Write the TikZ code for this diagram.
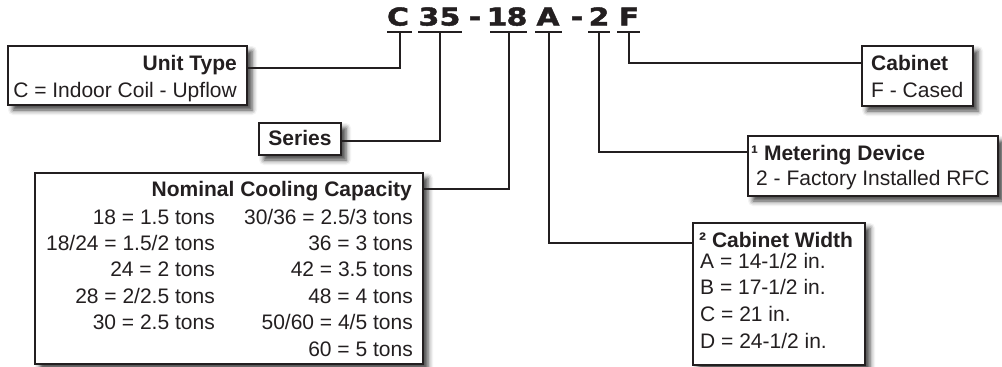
\documentclass[tikz,border=0pt]{standalone}
\usepackage{fontspec}
\setmainfont{Liberation Sans}
\newfontfamily\codefont[FakeStretch=1.22,FakeBold=1.8]{DejaVu Sans}
\usetikzlibrary{shadows.blur}
\definecolor{ink}{HTML}{231F20}
\begin{document}
\begin{tikzpicture}[x=1pt,y=-1pt,
  box/.style={draw=ink, line width=1.1pt, fill=white, inner sep=0pt, outer sep=0pt, anchor=north west,
    blur shadow={shadow xshift=5pt, shadow yshift=-5pt, shadow blur radius=5pt, shadow opacity=75}},
  txt/.style={inner sep=0pt, text=ink, font=\fontsize{21}{25}\selectfont},
  hd/.style={inner sep=0pt, text=ink, font=\fontsize{21}{25}\selectfont\bfseries},
  code/.style={inner sep=0pt, anchor=base, text=ink, font=\codefont\bfseries\fontsize{24.5}{28}\selectfont},
  uline/.style={fill=ink, inner sep=0pt, outer sep=0pt, minimum height=2.5pt},
  conn/.style={draw=ink, line width=2pt}]
\useasboundingbox (0,0) rectangle (1002,367);

% code letters
\node[code] (kC) at (398,25.5) {C};
\node[code] (k3) at (429,25.5) {3};
\node[code] (k5) at (450,25.5) {5};
\node[code] (kd1) at (475,25.5) {-};
\node[code] (k1) at (497,25.5) {1};
\node[code] (k8) at (517,25.5) {8};
\node[code] (kA) at (548,25.5) {A};
\node[code] (kd2) at (577,25.5) {-};
\node[code] (k2) at (599,25.5) {2};
\node[code] (kF) at (629,25.5) {F};

% underlines
\node[uline, minimum width=25pt] (uC) at (399.5,32) {};
\node[uline, minimum width=44pt] (u35) at (440,32) {};
\node[uline, minimum width=37pt] (u18) at (508.5,32) {};
\node[uline, minimum width=27pt] (uA) at (548.5,32) {};
\node[uline, minimum width=22pt] (u2) at (599,32) {};
\node[uline, minimum width=23pt] (uF) at (628.5,32) {};

% boxes
\node[box, minimum width=239pt, minimum height=59pt] (unit) at (8,46) {};
\node[box, minimum width=82pt, minimum height=32pt] (series) at (259,123) {};
\node[box, minimum width=388pt, minimum height=191pt] (nom) at (35,173) {};
\node[box, minimum width=111pt, minimum height=60pt] (cab) at (862,46) {};
\node[box, minimum width=250pt, minimum height=60pt] (met) at (748,136) {};
\node[box, minimum width=172pt, minimum height=142pt] (cw) at (693,223) {};

% connector ends
\coordinate (unitL) at (247,68);
\coordinate (seriesL) at (341,141);
\coordinate (nomL) at (423,189);
\coordinate (cwL) at (693,243);
\coordinate (metL) at (748,152);
\coordinate (cabL) at (862,63);

\draw[conn] (uC.center) |- (unitL);
\draw[conn] (u35.center) |- (seriesL);
\draw[conn] (u18.center) |- (nomL);
\draw[conn] (uA.center) |- (cwL);
\draw[conn] (u2.center) |- (metL);
\draw[conn] (uF.center) |- (cabL);

% Unit type
\node[hd, anchor=base east] (unitH) at (237,70) {Unit Type};
\node[txt, anchor=base east] (unitT) at (237,97.3) {C = Indoor Coil - Upflow};

% Series
\node[hd, anchor=base] (seriesH) at (300,145.5) {Series};

% Nominal
\node[hd, anchor=base east] (nomH) at (412,196) {Nominal Cooling Capacity};
\node[txt, anchor=base east] (nl1) at (215,224) {18 = 1.5 tons};
\node[txt, anchor=base east] (nl2) at (215,250.4) {18/24 = 1.5/2 tons};
\node[txt, anchor=base east] (nl3) at (215,276.8) {24 = 2 tons};
\node[txt, anchor=base east] (nl4) at (215,303.2) {28 = 2/2.5 tons};
\node[txt, anchor=base east] (nl5) at (215,329.6) {30 = 2.5 tons};
\node[txt, anchor=base east] (nr1) at (413,224) {30/36 = 2.5/3 tons};
\node[txt, anchor=base east] (nr2) at (413,250.4) {36 = 3 tons};
\node[txt, anchor=base east] (nr3) at (413,276.8) {42 = 3.5 tons};
\node[txt, anchor=base east] (nr4) at (413,303.2) {48 = 4 tons};
\node[txt, anchor=base east] (nr5) at (413,329.6) {50/60 = 4/5 tons};
\node[txt, anchor=base east] (nr6) at (413,356) {60 = 5 tons};

% Cabinet
\node[hd, anchor=base west] (cabH) at (871,70.5) {Cabinet};
\node[txt, anchor=base west] (cabT) at (871,97.3) {F - Cased};

% Metering
\node[hd, anchor=base west] (metH) at (751,160.7) {¹ Metering Device};
\node[txt, anchor=base west] (metT) at (756,185) {2 - Factory Installed RFC};

% Cabinet width
\node[hd, anchor=base west] (cwH) at (699,247) {² Cabinet Width};
\node[txt, anchor=base west] (cw1) at (700,268) {A = 14-1/2 in.};
\node[txt, anchor=base west] (cw2) at (700,294.7) {B = 17-1/2 in.};
\node[txt, anchor=base west] (cw3) at (700,321.4) {C = 21 in.};
\node[txt, anchor=base west] (cw4) at (700,348) {D = 24-1/2 in.};
\end{tikzpicture}
\end{document}
